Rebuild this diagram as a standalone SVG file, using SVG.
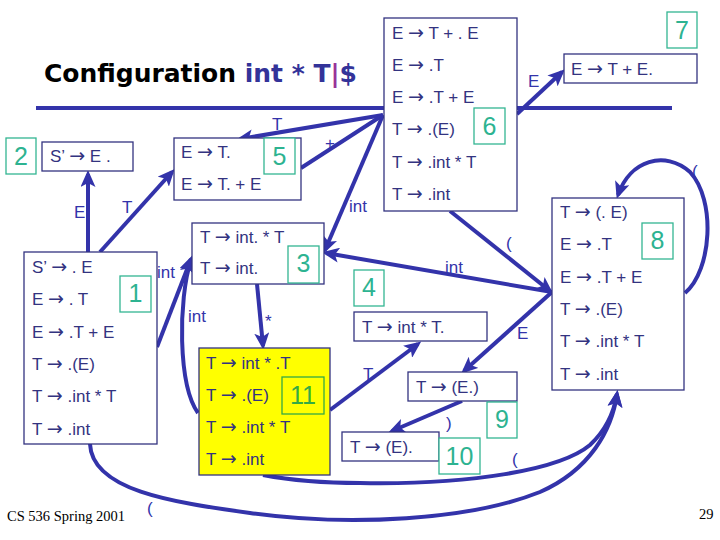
<svg xmlns="http://www.w3.org/2000/svg" width="720" height="540" viewBox="0 0 720 540">
<defs>
<style>
.box{fill:#fff;stroke:#333380;stroke-width:1.3}
.t{font-family:"Liberation Sans",Arial,sans-serif;font-size:17px;fill:#333380}
.a{font-family:"DejaVu Sans",sans-serif;font-size:19px}
.lb{fill:#fff;stroke:#33b592;stroke-width:1.3}
.ln{font-family:"Liberation Sans",Arial,sans-serif;font-size:25px;fill:#2db391;text-anchor:middle}
.e{fill:none;stroke:#3333aa;stroke-width:4}
.ea{fill:none;stroke:#3333aa;stroke-width:4;marker-end:url(#ah)}
.el{font-family:"Liberation Sans",Arial,sans-serif;font-size:17px;fill:#3333aa}
.ft{font-family:"Liberation Serif","Times New Roman",serif;font-size:14.5px;fill:#000}
</style>
<marker id="ah" markerUnits="userSpaceOnUse" markerWidth="18" markerHeight="15" refX="13" refY="7.5" orient="auto">
<path d="M0,0 L17,7.5 L0,15 L4,7.5 z" fill="#3333aa"/>
</marker>
</defs>
<rect width="720" height="540" fill="#fff"/>
<text x="44" y="82" font-family="DejaVu Sans,sans-serif" font-weight="bold" font-size="25" textLength="313" lengthAdjust="spacingAndGlyphs"><tspan fill="#000">Configuration </tspan><tspan fill="#333399">int * T</tspan><tspan fill="#993399">|</tspan><tspan fill="#333399">$</tspan></text>
<g id="connectors">
<path class="e" d="M36,108 L672,108"/>
<path class="ea" d="M88,252 L88,174"/>
<text class="el" x="74" y="218">E</text>
<path class="ea" d="M100,252 L172,172"/>
<text class="el" x="122" y="213">T</text>
<path class="ea" d="M383,115 L240,139"/>
<text class="el" x="272" y="130">T</text>
<path class="e" d="M301,168 L383,115"/>
<text class="el" x="325" y="149">+</text>
<path class="ea" d="M383,115 L325,250"/>
<text class="el" x="349" y="212">int</text>
<path class="ea" d="M517,114 L562,72"/>
<text class="el" x="528" y="87">E</text>
<path class="ea" d="M450,211 L550,291"/>
<text class="el" x="506" y="249">(</text>
<path class="ea" d="M552,292 L326,253"/>
<text class="el" x="445" y="273">int</text>
<path class="ea" d="M552,292 L464,371"/>
<text class="el" x="517" y="339">E</text>
<path class="ea" d="M462,401 L392,431"/>
<text class="el" x="446" y="429">)</text>
<path class="ea" d="M330,410 L418,344"/>
<text class="el" x="363" y="380">T</text>
<path class="ea" d="M257,284 L263,346"/>
<text class="el" x="265" y="327">*</text>
<path class="ea" d="M157,347 L191,259"/>
<text class="el" x="157" y="278">int</text>
<path class="ea" d="M198,413 C178,385 178,300 191,260"/>
<text class="el" x="188" y="322">int</text>
<path class="ea" d="M685,293 C712,270 716,200 690,172 C665,150 630,160 618,195"/>
<text class="el" x="692" y="177">(</text>
<path class="ea" d="M90,444 C92,490 170,502 250,513 C350,527 470,520 540,492 C590,470 612,430 617,394"/>
<text class="el" x="147" y="514">(</text>
<path class="ea" d="M263,475 C300,482 330,483 360,483 C470,485 560,470 590,445 C606,430 614,412 617,394"/>
<text class="el" x="512" y="465">(</text>
</g>
<g id="state7">
<rect class="lb" x="667" y="12" width="30" height="36"/>
<text class="ln" x="682" y="39">7</text>
<rect class="box" x="564" y="54" width="133" height="29"/>
<text class="t" x="571" y="75">E <tspan class="a">→</tspan> T + E.</text>
</g>
<g id="state6">
<rect class="box" x="384" y="18" width="133" height="193"/>
<text class="t" x="392" y="39">E <tspan class="a">→</tspan> T + . E</text>
<text class="t" x="392" y="71">E <tspan class="a">→</tspan> .T</text>
<text class="t" x="392" y="103">E <tspan class="a">→</tspan> .T + E</text>
<text class="t" x="392" y="135">T <tspan class="a">→</tspan> .(E)</text>
<text class="t" x="392" y="168">T <tspan class="a">→</tspan> .int * T</text>
<text class="t" x="392" y="200">T <tspan class="a">→</tspan> .int</text>
<rect class="lb" x="474" y="108" width="31" height="36"/>
<text class="ln" x="489.5" y="135">6</text>
</g>
<g id="state2">
<rect class="lb" x="6" y="138" width="30" height="36"/>
<text class="ln" x="21" y="165">2</text>
<rect class="box" x="42" y="142" width="91" height="29"/>
<text class="t" x="50" y="162">S’ <tspan class="a">→</tspan> E .</text>
</g>
<g id="state5">
<rect class="box" x="174" y="138" width="127" height="62"/>
<text class="t" x="181" y="158">E <tspan class="a">→</tspan> T.</text>
<text class="t" x="181" y="190">E <tspan class="a">→</tspan> T. + E</text>
<rect class="lb" x="264" y="138" width="31" height="36"/>
<text class="ln" x="279.5" y="165">5</text>
</g>
<g id="state1">
<rect class="box" x="24" y="252" width="133" height="192"/>
<text class="t" x="32" y="273">S’ <tspan class="a">→</tspan> . E</text>
<text class="t" x="32" y="305">E <tspan class="a">→</tspan> . T</text>
<text class="t" x="32" y="338">E <tspan class="a">→</tspan> .T + E</text>
<text class="t" x="32" y="370">T <tspan class="a">→</tspan> .(E)</text>
<text class="t" x="32" y="402">T <tspan class="a">→</tspan> .int * T</text>
<text class="t" x="32" y="435">T <tspan class="a">→</tspan> .int</text>
<rect class="lb" x="120" y="276" width="31" height="36"/>
<text class="ln" x="135.5" y="302" font-size="22">1</text>
</g>
<g id="state3">
<rect class="box" x="192" y="223" width="132" height="61"/>
<text class="t" x="200" y="243">T <tspan class="a">→</tspan> int. * T</text>
<text class="t" x="200" y="274">T <tspan class="a">→</tspan> int.</text>
<rect class="lb" x="288" y="246" width="31" height="37"/>
<text class="ln" x="303.5" y="272">3</text>
</g>
<g id="state11">
<rect x="199" y="348" width="131" height="127" fill="#ffff00" stroke="#333380" stroke-width="1.3"/>
<text class="t" x="206" y="369">T <tspan class="a">→</tspan> int * .T</text>
<text class="t" x="206" y="401">T <tspan class="a">→</tspan> .(E)</text>
<text class="t" x="206" y="433">T <tspan class="a">→</tspan> .int * T</text>
<text class="t" x="206" y="465">T <tspan class="a">→</tspan> .int</text>
<rect x="282" y="377" width="42" height="37" fill="none" stroke="#33aa44" stroke-width="1.3"/>
<text class="ln" x="303" y="404" style="fill:#33aa44">11</text>
</g>
<g id="state4">
<rect class="lb" x="354" y="270" width="30" height="36"/>
<text class="ln" x="369" y="296" font-size="22">4</text>
<rect class="box" x="354" y="312" width="133" height="29"/>
<text class="t" x="362" y="333">T <tspan class="a">→</tspan> int * T.</text>
</g>
<g id="state9">
<rect class="box" x="408" y="372" width="109" height="29"/>
<text class="t" x="416" y="393">T <tspan class="a">→</tspan> (E.)</text>
<rect class="lb" x="487" y="402" width="30" height="36"/>
<text class="ln" x="502" y="428">9</text>
</g>
<g id="state10">
<rect class="box" x="342" y="432" width="97" height="29"/>
<text class="t" x="350" y="453">T <tspan class="a">→</tspan> (E).</text>
<rect class="lb" x="439" y="438" width="41" height="36"/>
<text class="ln" x="459.5" y="465">10</text>
</g>
<g id="state8">
<rect class="box" x="552" y="198" width="132" height="192"/>
<text class="t" x="560" y="218">T <tspan class="a">→</tspan> (. E)</text>
<text class="t" x="560" y="250">E <tspan class="a">→</tspan> .T</text>
<text class="t" x="560" y="283">E <tspan class="a">→</tspan> .T + E</text>
<text class="t" x="560" y="315">T <tspan class="a">→</tspan> .(E)</text>
<text class="t" x="560" y="347">T <tspan class="a">→</tspan> .int * T</text>
<text class="t" x="560" y="380">T <tspan class="a">→</tspan> .int</text>
<rect class="lb" x="642" y="223" width="31" height="36"/>
<text class="ln" x="657.5" y="249">8</text>
</g>
<text class="ft" x="7" y="521">CS 536  Spring 2001</text>
<text class="ft" x="699" y="519" font-size="13">29</text>
</svg>
